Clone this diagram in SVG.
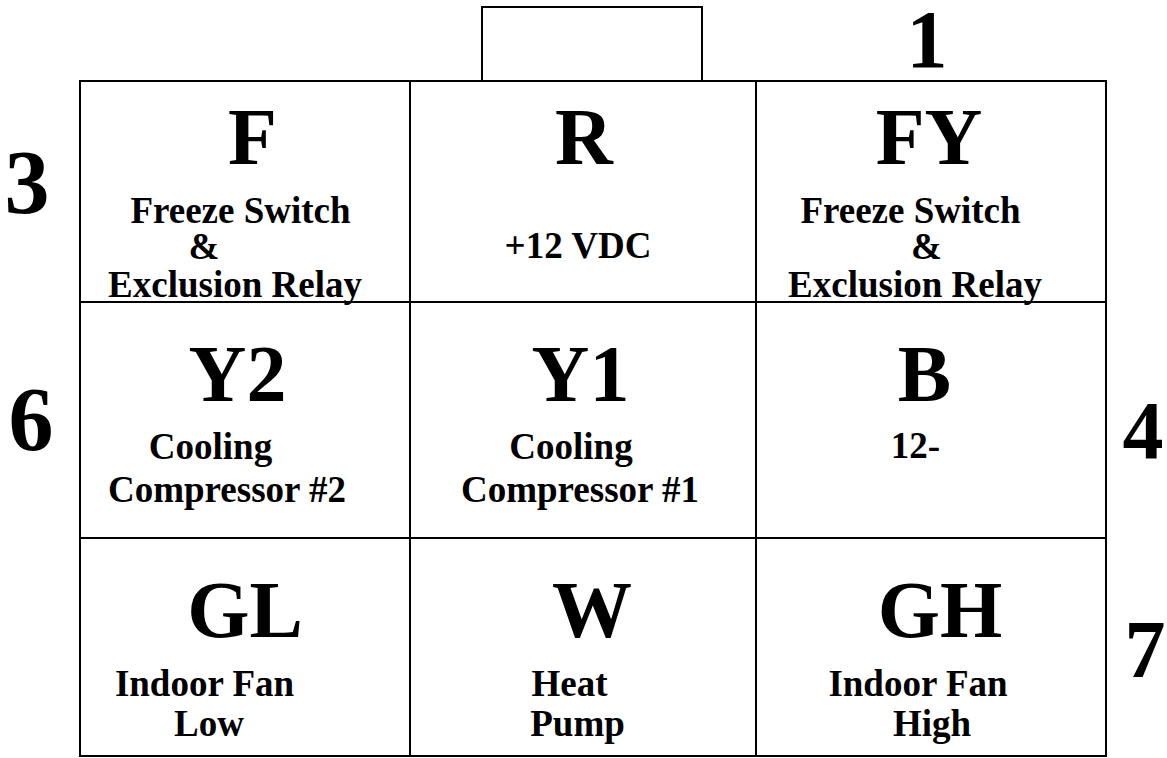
<svg xmlns="http://www.w3.org/2000/svg" width="1167" height="758" viewBox="0 0 1167 758">
<style>
.ln{fill:none;stroke:#000;stroke-width:2}
.big{font-family:"Liberation Serif","Times New Roman",serif;font-weight:bold;font-size:80px;text-anchor:middle;fill:#000}
.num{font-family:"Liberation Serif","Times New Roman",serif;font-weight:bold;font-size:90px;text-anchor:middle;fill:#000}
.num2{font-family:"Liberation Serif","Times New Roman",serif;font-weight:bold;font-size:82px;text-anchor:middle;fill:#000}
.sm{font-family:"Liberation Serif","Times New Roman",serif;font-weight:bold;font-size:37px;text-anchor:middle;fill:#000}
</style>
<rect width="1167" height="758" fill="#fff"/>
<g id="grid">
<rect class="ln" x="482" y="7" width="220" height="74"/>
<rect class="ln" x="80" y="81" width="1026" height="675"/>
<line class="ln" x1="410" y1="81" x2="410" y2="756"/>
<line class="ln" x1="756" y1="81" x2="756" y2="756"/>
<line class="ln" x1="80" y1="302" x2="1106" y2="302"/>
<line class="ln" x1="80" y1="538" x2="1106" y2="538"/>
</g>
<g id="pins">
<text class="num2" x="927" y="67">1</text>
<text class="num" x="27" y="213">3</text>
<text class="num" x="31" y="450">6</text>
<text class="num2" x="1143" y="458">4</text>
<text class="num2" x="1145" y="677">7</text>
</g>
<g id="cell-F">
<text class="big" x="252.5" y="164">F</text>
<text class="sm" x="240.5" y="223">Freeze Switch</text>
<text class="sm" x="204" y="259">&amp;</text>
<text class="sm" x="235" y="297">Exclusion Relay</text>
</g>
<g id="cell-R">
<text class="big" x="584" y="164">R</text>
<text class="sm" x="578" y="258">+12 VDC</text>
</g>
<g id="cell-FY">
<text class="big" x="929" y="164">FY</text>
<text class="sm" x="910.5" y="223">Freeze Switch</text>
<text class="sm" x="926.5" y="259">&amp;</text>
<text class="sm" x="915" y="297">Exclusion Relay</text>
</g>
<g id="cell-Y2">
<text class="big" x="237.5" y="401">Y2</text>
<text class="sm" x="210.5" y="459">Cooling</text>
<text class="sm" x="227" y="502">Compressor #2</text>
</g>
<g id="cell-Y1">
<text class="big" x="580.5" y="401">Y1</text>
<text class="sm" x="571" y="459">Cooling</text>
<text class="sm" x="580" y="502">Compressor #1</text>
</g>
<g id="cell-B">
<text class="big" x="924.5" y="401">B</text>
<text class="sm" x="915.5" y="458">12-</text>
</g>
<g id="cell-GL">
<text class="big" x="245" y="637">GL</text>
<text class="sm" x="204.5" y="696">Indoor Fan</text>
<text class="sm" x="209" y="736">Low</text>
</g>
<g id="cell-W">
<text class="big" x="592" y="637">W</text>
<text class="sm" x="569.5" y="696">Heat</text>
<text class="sm" x="577.5" y="736">Pump</text>
</g>
<g id="cell-GH">
<text class="big" x="940" y="637">GH</text>
<text class="sm" x="918" y="696">Indoor Fan</text>
<text class="sm" x="932" y="736">High</text>
</g>
<g id="connectors"></g>
</svg>
